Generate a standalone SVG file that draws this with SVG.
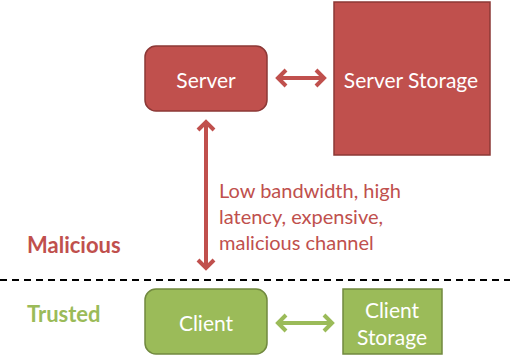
<svg xmlns="http://www.w3.org/2000/svg" width="510" height="360" viewBox="0 0 510 360">
<style>
.red{fill:#C0504D;stroke:#8C3836;stroke-width:1.5}
.green{fill:#9BBB59;stroke:#71893F;stroke-width:1.5}
.lbl{font-family:Lato,"Open Sans","Liberation Sans",sans-serif;font-size:21px;fill:#fff;text-anchor:middle;dominant-baseline:central}
.ra{stroke:#C0504D;stroke-width:4;fill:none}
.ga{stroke:#9BBB59;stroke-width:4;fill:none}
</style>
<defs>
<marker id="hr" markerUnits="userSpaceOnUse" viewBox="-10 -10 20 20" markerWidth="20" markerHeight="20" refX="0" refY="0" orient="auto-start-reverse" overflow="visible">
<path d="M-8,-8 L0,0 L-8,8" stroke="#C0504D" stroke-width="4" fill="none" stroke-linejoin="miter"/>
</marker>
<marker id="hg" markerUnits="userSpaceOnUse" viewBox="-10 -10 20 20" markerWidth="20" markerHeight="20" refX="0" refY="0" orient="auto-start-reverse" overflow="visible">
<path d="M-8,-8 L0,0 L-8,8" stroke="#9BBB59" stroke-width="4" fill="none" stroke-linejoin="miter"/>
</marker>
</defs>
<rect width="510" height="360" fill="#fff"/>
<g id="connectors">
<line class="ra" x1="278" y1="78" x2="324" y2="78" marker-start="url(#hr)" marker-end="url(#hr)"/>
<line class="ra" x1="206" y1="122" x2="206" y2="268" marker-start="url(#hr)" marker-end="url(#hr)"/>
<line class="ga" x1="278" y1="323" x2="332" y2="323" marker-start="url(#hg)" marker-end="url(#hg)"/>
<line x1="0" y1="280" x2="510" y2="280" stroke="#000" stroke-width="2" stroke-dasharray="7,5"/>
</g>
<g id="server">
<rect class="red" x="145" y="46" width="122" height="65" rx="11"/>
<text class="lbl" x="206" y="79">Server</text>
</g>
<g id="server-storage">
<rect class="red" x="334" y="2" width="156" height="153"/>
<text class="lbl" x="411" y="79">Server Storage</text>
</g>
<g id="client">
<rect class="green" x="145" y="289" width="122" height="65" rx="11"/>
<text class="lbl" x="206" y="322">Client</text>
</g>
<g id="client-storage">
<rect class="green" x="343" y="289" width="99" height="65"/>
<text class="lbl" x="392" y="309">Client</text>
<text class="lbl" x="392" y="336">Storage</text>
</g>
<g id="channel-label" font-family="Lato,'Open Sans','Liberation Sans',sans-serif" font-size="20" fill="#C0504D">
<text x="219" y="198">Low bandwidth, high</text>
<text x="219" y="224">latency, expensive,</text>
<text x="219" y="250">malicious channel</text>
</g>
<text x="27" y="253" font-family="Lato,'Open Sans','Liberation Sans',sans-serif" font-size="22" font-weight="bold" fill="#C0504D">Malicious</text>
<text x="27" y="322" font-family="Lato,'Open Sans','Liberation Sans',sans-serif" font-size="22" font-weight="bold" fill="#9BBB59">Trusted</text>
</svg>
